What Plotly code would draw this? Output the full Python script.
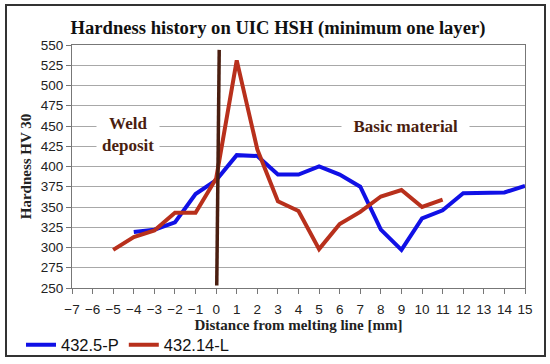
import plotly.graph_objects as go

# ---- data ----
p_x = [-4, -3, -2, -1, 0, 1, 2, 3, 4, 5, 6, 7, 8, 9, 10, 11, 12, 13, 14, 15]
p_y = [319, 322, 331, 366, 383, 414, 413, 390, 390, 400, 390, 375, 322, 297, 336, 346, 367, 368, 368, 376]

l_x = [-5, -4, -3, -2, -1, 0, 1, 2, 3, 4, 5, 6, 7, 8, 9, 10, 11]
l_y = [297, 313, 321, 343, 343, 385, 531, 421, 357, 345, 298, 329, 344, 363, 371, 350, 359]

melt_x = [0.03, 0.15]
melt_y = [253, 544]

series_names = ["432.5-P", "432.14-L"]
title_text = "Hardness history on UIC HSH (minimum one layer)"
x_title = "Distance from melting line [mm]"
y_title = "Hardness HV 30"
label_weld = "Weld<br>deposit"
label_base = "Basic material"

SERIF = "Liberation Serif"
SANS = "Liberation Sans, Arial"
BROWN = "#4a1e10"

fig = go.Figure()
fig.add_trace(go.Scatter(x=p_x, y=p_y, mode="lines", name=series_names[0],
                         line=dict(color="#1010e6", width=4)))
fig.add_trace(go.Scatter(x=l_x, y=l_y, mode="lines", name=series_names[1],
                         line=dict(color="#b8301c", width=4)))
fig.add_trace(go.Scatter(x=melt_x, y=melt_y, mode="lines", showlegend=False,
                         line=dict(color=BROWN, width=3.5)))

W, H = 550, 364
L, R, T, B = 72, 25, 45, 76
pw, ph = W - L - R, H - T - B

def px2paper(px, py):
    return (px - L) / pw, (H - B - py) / ph

x0, y0 = px2paper(6, 356)
x1, y1 = px2paper(545, 5)
lgx, lgy = px2paper(21, 345)

fig.update_layout(
    width=W, height=H,
    margin=dict(l=L, r=R, t=T, b=B, autoexpand=False),
    paper_bgcolor="white", plot_bgcolor="white",
    title=dict(text="<b>" + title_text + "</b>", x=(278) / W, xanchor="center",
               y=1 - 27 / H, yanchor="middle",
               font=dict(family=SERIF, size=18.6, color="#111")),
    xaxis=dict(range=[-7, 15], dtick=1, tick0=-7, showgrid=False, zeroline=False,
               showline=True, linecolor="#777", linewidth=1, mirror=True,
               ticks="outside", ticklen=5, tickcolor="#777", ticklabelstandoff=4,
               tickfont=dict(family=SANS, size=13.5, color="#222"),
               title=dict(text="<b>" + x_title + "</b>", standoff=3,
                          font=dict(family=SERIF, size=15, color="#222"))),
    yaxis=dict(range=[250, 550], dtick=25, tick0=250, showgrid=True, gridcolor="#a8a8a8",
               gridwidth=1, zeroline=False,
               showline=True, linecolor="#777", linewidth=1, mirror=True,
               ticks="outside", ticklen=5, tickcolor="#777",
               tickfont=dict(family=SANS, size=13.5, color="#222"),
               title=dict(text="<b>" + y_title + "</b>", standoff=5,
                          font=dict(family=SERIF, size=15, color="#222"))),
    legend=dict(orientation="h", x=lgx, y=lgy, xanchor="left", yanchor="middle",
                font=dict(family=SANS, size=16.5, color="#111"),
                itemwidth=30, tracegroupgap=0, bgcolor="rgba(0,0,0,0)"),
    showlegend=True,
)

fig.add_annotation(x=-4.3, y=439, text="<b>" + label_weld + "</b>", showarrow=False,
                   font=dict(family=SERIF, size=17, color=BROWN), bgcolor="white",
                   borderpad=5)
fig.add_annotation(x=9.2, y=449, text="&nbsp;&nbsp;<b>" + label_base + "</b>&nbsp;&nbsp;",
                   showarrow=False,
                   font=dict(family=SERIF, size=17, color=BROWN), bgcolor="white",
                   borderpad=3)

fig.add_shape(type="rect", xref="paper", yref="paper", x0=x0, y0=y0, x1=x1, y1=y1,
              line=dict(color="#333", width=2), layer="below")

fig.write_html("out.html", config={"displayModeBar": False},
               post_script="document.body.style.margin='0px';")
